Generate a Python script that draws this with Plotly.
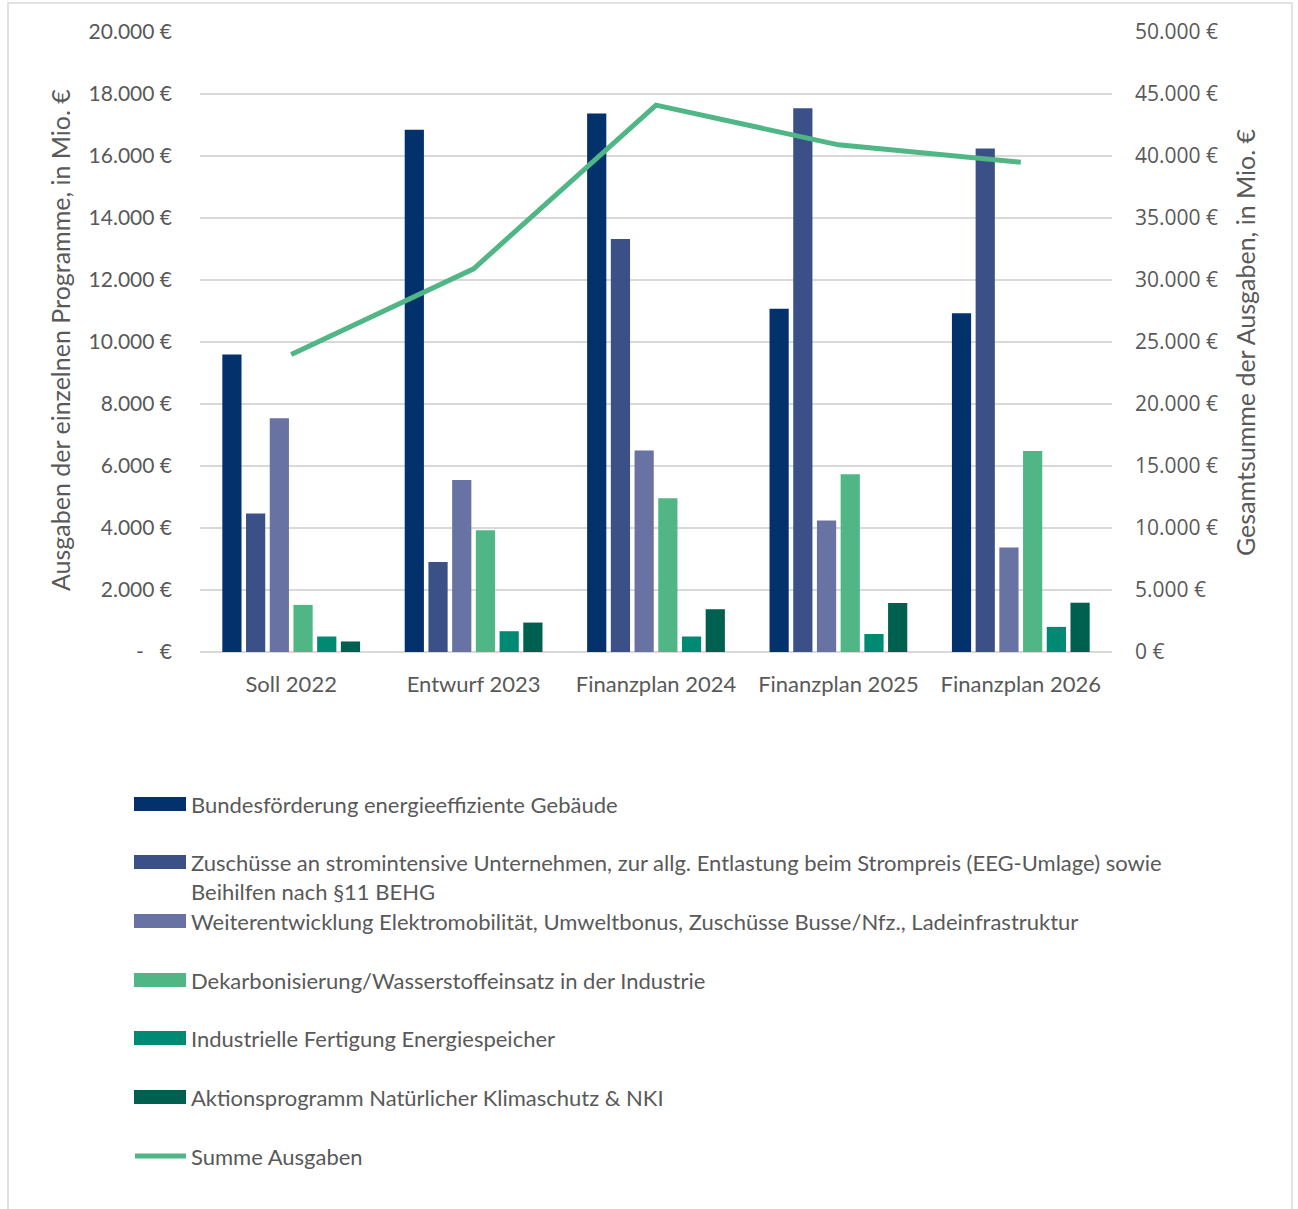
import plotly.graph_objects as go

categories = ["Soll 2022", "Entwurf 2023", "Finanzplan 2024", "Finanzplan 2025", "Finanzplan 2026"]

series_names = [
    "Bundesförderung energieeffiziente Gebäude",
    "Zuschüsse an stromintensive Unternehmen, zur allg. Entlastung beim Strompreis (EEG-Umlage) sowie<br>Beihilfen nach §11 BEHG",
    "Weiterentwicklung Elektromobilität, Umweltbonus, Zuschüsse Busse/Nfz., Ladeinfrastruktur",
    "Dekarbonisierung/Wasserstoffeinsatz in der Industrie",
    "Industrielle Fertigung Energiespeicher",
    "Aktionsprogramm Natürlicher Klimaschutz & NKI",
]
beg = [9600, 16850, 17370, 11070, 10930]
strom = [4470, 2900, 13320, 17540, 16240]
emob = [7540, 5550, 6500, 4240, 3370]
dekarb = [1520, 3930, 4960, 5730, 6480]
speicher = [500, 670, 500, 580, 810]
nki = [340, 950, 1380, 1580, 1590]
summe = [24000, 30900, 44100, 40900, 39500]
line_name = "Summe Ausgaben"

left_tickvals = [0, 2000, 4000, 6000, 8000, 10000, 12000, 14000, 16000, 18000, 20000]
left_ticktext = ["-\u00a0\u00a0\u00a0€", "2.000 €", "4.000 €", "6.000 €", "8.000 €", "10.000 €",
                 "12.000 €", "14.000 €", "16.000 €", "18.000 €", "20.000 €"]
right_tickvals = [0, 5000, 10000, 15000, 20000, 25000, 30000, 35000, 40000, 45000, 50000]
right_ticktext = ["0 €", "5.000 €", "10.000 €", "15.000 €", "20.000 €", "25.000 €",
                  "30.000 €", "35.000 €", "40.000 €", "45.000 €", "50.000 €"]

colors = ["#03316B", "#3A5087", "#6873A4", "#51B685", "#008A73", "#006050"]
line_color = "#50B685"
text_color = "#595959"
FONT = "Lato"

W, H = 1298, 1209
L, R, T, B = 200, 1112, 32, 652

fig = go.Figure()
all_series = [beg, strom, emob, dekarb, speicher, nki]
for name, vals, col in zip(series_names, all_series, colors):
    fig.add_trace(go.Bar(x=categories, y=vals, name=name, marker_color=col,
                         marker_line_width=0, showlegend=False))
fig.add_trace(go.Scatter(x=categories, y=summe, name=line_name, mode="lines",
                         line=dict(color=line_color, width=5), yaxis="y2",
                         showlegend=False))

def px_x(x):
    return (x - L) / (R - L)

def px_y(y):
    return (B - y) / (B - T)

shapes = []
annotations = []
# legend (manual)
legend_rows = [804, 862, 921, 980, 1038, 1097]
for i, (name, col) in enumerate(zip(series_names, colors)):
    yc = legend_rows[i]
    shapes.append(dict(type="rect", xref="paper", yref="paper",
                       x0=px_x(134), x1=px_x(186), y0=px_y(yc + 7), y1=px_y(yc - 7),
                       fillcolor=col, line_width=0))
    annotations.append(dict(xref="paper", yref="paper", x=px_x(189), y=px_y(yc - 15),
                            xanchor="left", yanchor="top", align="left", showarrow=False,
                            text=name, font=dict(family=FONT, size=22, color=text_color)))
yc = 1156
shapes.append(dict(type="line", xref="paper", yref="paper",
                   x0=px_x(135), x1=px_x(186), y0=px_y(yc), y1=px_y(yc),
                   line=dict(color=line_color, width=5)))
annotations.append(dict(xref="paper", yref="paper", x=px_x(189), y=px_y(yc),
                        xanchor="left", yanchor="middle", showarrow=False,
                        text=line_name, font=dict(family=FONT, size=22, color=text_color)))

# axis titles
annotations.append(dict(xref="paper", yref="paper", x=px_x(60), y=px_y(340), textangle=-90,
                        xanchor="center", yanchor="middle", showarrow=False,
                        text="Ausgaben der einzelnen Programme, in Mio. €",
                        font=dict(family=FONT, size=25, color=text_color)))
annotations.append(dict(xref="paper", yref="paper", x=px_x(1245), y=px_y(342), textangle=-90,
                        xanchor="center", yanchor="middle", showarrow=False,
                        text="Gesamtsumme der Ausgaben, in Mio. €",
                        font=dict(family=FONT, size=25, color=text_color)))

# outer border
shapes.append(dict(type="rect", xref="paper", yref="paper",
                   x0=px_x(8), x1=px_x(1292), y0=px_y(1215), y1=px_y(3),
                   line=dict(color="#D9D9D9", width=1.5), fillcolor="rgba(0,0,0,0)",
                   layer="below"))

fig.update_layout(
    width=W, height=H,
    margin=dict(l=L, r=W - R, t=T, b=H - B, autoexpand=False),
    paper_bgcolor="white", plot_bgcolor="white",
    barmode="group", bargap=0.22, bargroupgap=0.19,
    showlegend=False,
    font=dict(family=FONT, size=21, color=text_color),
    xaxis=dict(showgrid=False, ticks="", showline=False, ticklabelstandoff=17,
               tickfont=dict(family=FONT, size=22, color=text_color), fixedrange=True),
    yaxis=dict(range=[0, 20000], tickvals=left_tickvals, ticktext=left_ticktext,
               showgrid=True, gridcolor="#D9D9D9", gridwidth=1.5, zeroline=True,
               zerolinecolor="#D9D9D9", zerolinewidth=1.5, showline=False, ticks="",
               ticklabelstandoff=27, tickfont=dict(family=FONT, size=21, color=text_color)),
    yaxis2=dict(range=[0, 50000], tickvals=right_tickvals, ticktext=right_ticktext,
                overlaying="y", side="right", showgrid=False, zeroline=False,
                showline=False, ticks="", ticklabelstandoff=22,
                tickfont=dict(family="Open Sans", size=21, color=text_color)),
    shapes=shapes, annotations=annotations,
)

fig.write_html("out.html", config={"displayModeBar": False},
               post_script="document.body.style.margin='0';document.body.style.padding='0';")
